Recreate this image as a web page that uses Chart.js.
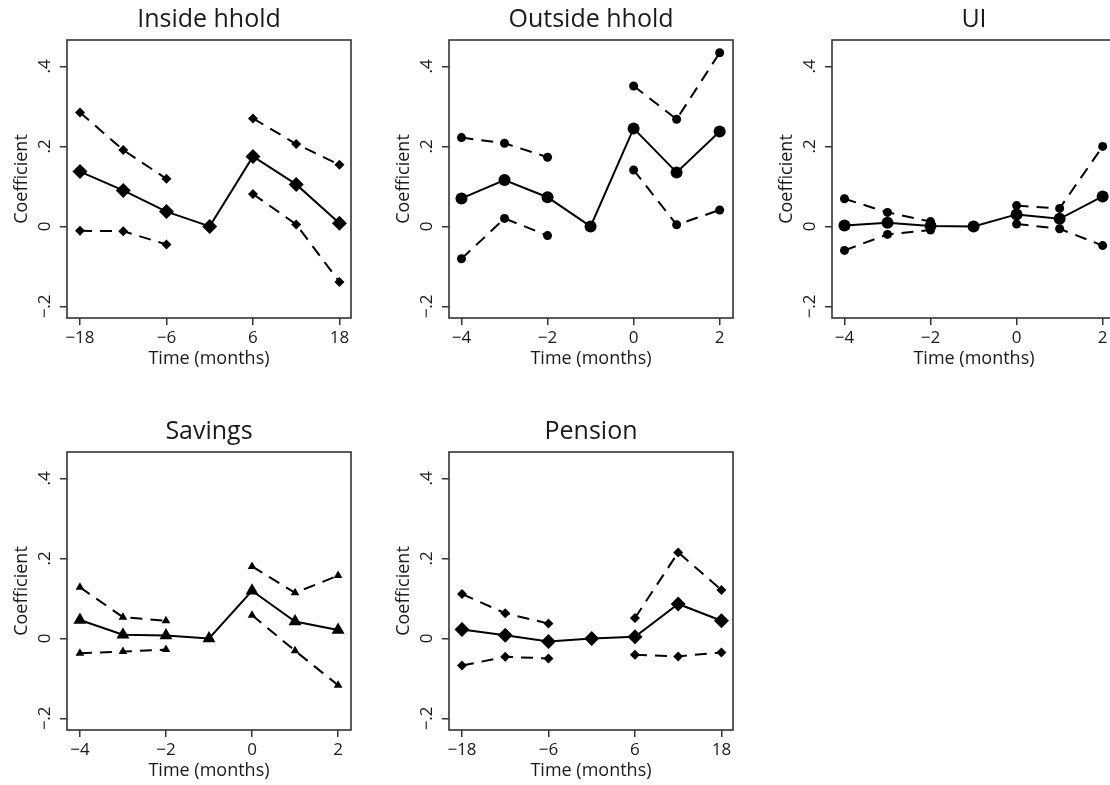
<!DOCTYPE html>
<html>
<head>
<meta charset="utf-8">
<title>Event-study coefficients</title>
<script src="https://cdn.jsdelivr.net/npm/chart.js@4.4.1/dist/chart.umd.min.js"></script>
<style>
  html, body { margin: 0; padding: 0; background: #fff; overflow: hidden; }
  #wrap { position: relative; width: 1110px; height: 785px; overflow: hidden; }
  canvas { position: absolute; }
</style>
</head>
<body>
<div id="wrap">
  <canvas id="inside" width="361" height="370" style="left:0px;top:0px"></canvas>
  <canvas id="outside" width="361" height="370" style="left:382px;top:0px"></canvas>
  <canvas id="ui" width="361" height="370" style="left:765px;top:0px"></canvas>
  <canvas id="savings" width="361" height="370" style="left:0px;top:412px"></canvas>
  <canvas id="pension" width="361" height="370" style="left:382px;top:412px"></canvas>
</div>
<script>
// x positions (months relative to the event)
const monthsWide = [-18, -12, -6, 0, 6, 12, 18];
const monthsNarrow = [-4, -3, -2, -1, 0, 1, 2];

// tick values and their printed labels
const xTicksWide = [-18, -6, 6, 18];
const xLabelsWide = ['\u221218', '\u22126', '6', '18'];
const xTicksNarrow = [-4, -2, 0, 2];
const xLabelsNarrow = ['\u22124', '\u22122', '0', '2'];
const yTicks = [-0.2, 0, 0.2, 0.4];
const yLabels = ['\u2212.2', '0', '.2', '.4'];

// Inside hhold
const insideEst = [0.137, 0.090, 0.037, 0, 0.175, 0.105, 0.008];
const insideHi = [0.285, 0.191, 0.119, null, 0.270, 0.206, 0.154];
const insideLo = [-0.011, -0.012, -0.045, null, 0.081, 0.005, -0.139];

// Outside hhold
const outsideEst = [0.070, 0.116, 0.073, 0, 0.245, 0.135, 0.237];
const outsideHi = [0.222, 0.208, 0.173, null, 0.351, 0.268, 0.434];
const outsideLo = [-0.081, 0.020, -0.023, null, 0.141, 0.004, 0.041];

// UI
const uiEst = [0.002, 0.009, 0.001, 0, 0.030, 0.019, 0.075];
const uiHi = [0.069, 0.035, 0.012, null, 0.052, 0.045, 0.200];
const uiLo = [-0.060, -0.020, -0.009, null, 0.006, -0.006, -0.048];

// Savings
const savingsEst = [0.046, 0.009, 0.007, 0, 0.119, 0.042, 0.021];
const savingsHi = [0.128, 0.053, 0.044, null, 0.180, 0.114, 0.157];
const savingsLo = [-0.037, -0.033, -0.028, null, 0.058, -0.031, -0.117];

// Pension
const pensionEst = [0.022, 0.008, -0.008, 0, 0.004, 0.086, 0.044];
const pensionHi = [0.111, 0.063, 0.037, null, 0.051, 0.215, 0.121];
const pensionLo = [-0.068, -0.046, -0.050, null, -0.041, -0.045, -0.035];

const FONT = "'Open Sans', 'Noto Sans', sans-serif";
const INK = '#1a1a1a';

// box around the plot region
const framePlugin = {
  id: 'frame',
  afterDraw(chart) {
    const { ctx, chartArea: a } = chart;
    ctx.save();
    ctx.strokeStyle = '#333';
    ctx.lineWidth = 1.6;
    ctx.strokeRect(a.left, a.top, a.right - a.left, a.bottom - a.top);
    ctx.restore();
  }
};

function toPoints(xs, ys) {
  return xs.map((x, i) => ({ x: x, y: ys[i] }));
}

// solid line with big markers for the estimate, dashed with small markers for the bands
function series(xs, ys, shape, big) {
  let r;
  if (shape === 'circle') r = big ? 6 : 4.5;
  else r = big ? 7.5 : 5;
  return {
    data: toPoints(xs, ys),
    borderColor: '#000',
    backgroundColor: '#000',
    borderWidth: 2,
    borderDash: big ? [] : [12, 8],
    pointStyle: shape,
    pointRadius: r,
    pointBorderWidth: 0,
    pointBackgroundColor: '#000',
    spanGaps: false,
    tension: 0
  };
}

function makePanel(id, title, months, xTicks, xLabels, xRange, est, hi, lo, shape) {
  const ctx = document.getElementById(id).getContext('2d');
  new Chart(ctx, {
    type: 'line',
    data: {
      datasets: [
        series(months, hi, shape, false),
        series(months, lo, shape, false),
        series(months, est, shape, true)
      ]
    },
    options: {
      responsive: false,
      animation: false,
      events: [],
      layout: { padding: { right: 10 } },
      plugins: {
        legend: { display: false },
        tooltip: { enabled: false },
        title: {
          display: true,
          text: title,
          fullSize: false,
          color: INK,
          font: { family: FONT, size: 25, weight: 'normal', lineHeight: 1.2 },
          padding: { top: 5, bottom: 5 }
        }
      },
      scales: {
        x: {
          type: 'linear',
          min: xRange[0],
          max: xRange[1],
          afterFit: s => { s.height = 52; },
          afterBuildTicks: s => { s.ticks = xTicks.map(v => ({ value: v })); },
          grid: { drawOnChartArea: false, drawTicks: true, tickLength: 7, color: '#333', lineWidth: 1.5 },
          border: { display: false },
          ticks: {
            autoSkip: false,
            maxRotation: 0,
            padding: 3,
            color: INK,
            font: { family: FONT, size: 17 },
            callback: v => xLabels[xTicks.indexOf(v)]
          },
          title: {
            display: true,
            text: 'Time (months)',
            color: INK,
            font: { family: FONT, size: 18 },
            padding: { top: 0, bottom: 0 }
          }
        },
        y: {
          type: 'linear',
          min: -0.229,
          max: 0.466,
          afterFit: s => { s.width = 67; },
          afterBuildTicks: s => { s.ticks = yTicks.map(v => ({ value: v })); },
          grid: { drawOnChartArea: false, drawTicks: true, tickLength: 7, color: '#333', lineWidth: 1.5 },
          border: { display: false },
          ticks: {
            minRotation: 90,
            maxRotation: 90,
            crossAlign: 'center',
            padding: 3,
            color: INK,
            font: { family: FONT, size: 17 },
            callback: v => yLabels[yTicks.indexOf(v)]
          },
          title: {
            display: true,
            text: 'Coefficient',
            color: INK,
            font: { family: FONT, size: 18 },
            padding: { top: 11, bottom: 0 }
          }
        }
      }
    },
    plugins: [framePlugin]
  });
}

makePanel('inside', 'Inside hhold', monthsWide, xTicksWide, xLabelsWide, [-19.8, 19.6],
  insideEst, insideHi, insideLo, 'rectRot');
makePanel('outside', 'Outside hhold', monthsNarrow, xTicksNarrow, xLabelsNarrow, [-4.29, 2.31],
  outsideEst, outsideHi, outsideLo, 'circle');
makePanel('ui', 'UI', monthsNarrow, xTicksNarrow, xLabelsNarrow, [-4.29, 2.31],
  uiEst, uiHi, uiLo, 'circle');
makePanel('savings', 'Savings', monthsNarrow, xTicksNarrow, xLabelsNarrow, [-4.3, 2.3],
  savingsEst, savingsHi, savingsLo, 'triangle');
makePanel('pension', 'Pension', monthsWide, xTicksWide, xLabelsWide, [-19.8, 19.6],
  pensionEst, pensionHi, pensionLo, 'rectRot');
</script>
</body>
</html>
